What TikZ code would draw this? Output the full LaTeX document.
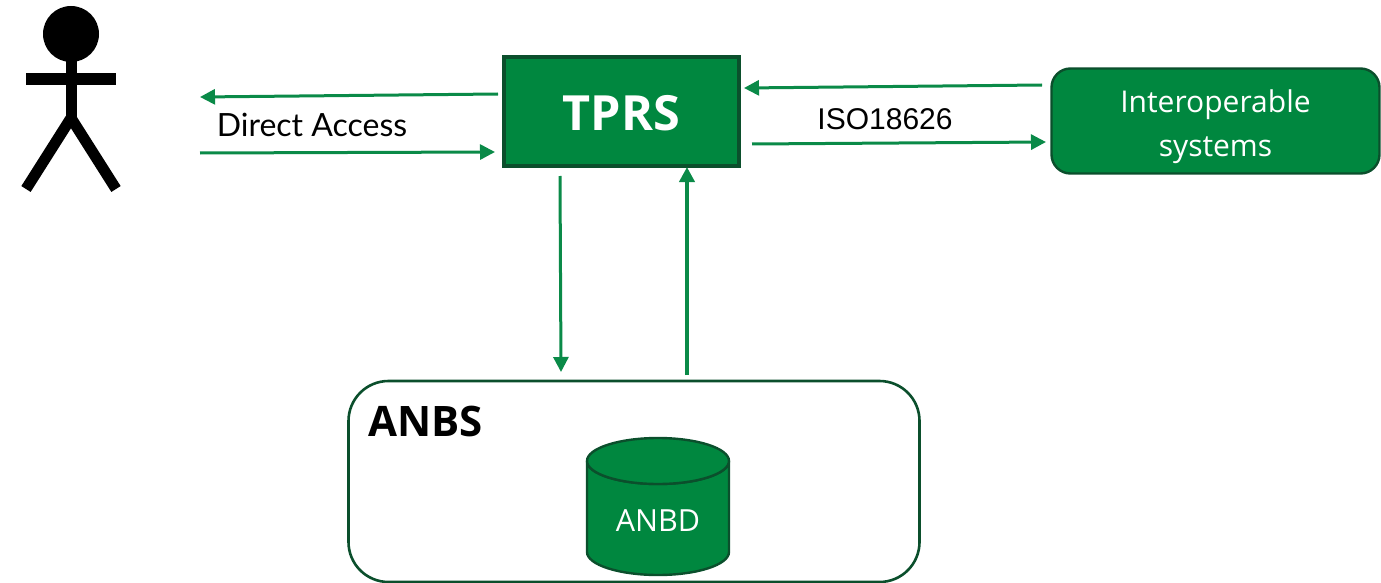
\documentclass[tikz,border=0pt]{standalone}
\usepackage{fontspec}
\setmainfont{Open Sans}
\newfontfamily\labelfont{Lato}
\newfontfamily\isofont{Liberation Sans}
\usetikzlibrary{arrows.meta}
\definecolor{gfill}{HTML}{00873F}
\definecolor{gdark}{HTML}{0B4F2C}
\definecolor{garrow}{HTML}{0A8A48}
\tikzset{
  x=1pt,y=-1pt,
  flow/.style={draw=garrow,line width=3pt,-{Triangle[length=15pt,width=15pt]}},
  flowthick/.style={flow,line width=4pt},
  stick/.style={draw=black,line width=11pt},
  greenbox/.style={draw=gdark,fill=gfill,text=white,inner sep=0pt},
  lbl/.style={text=black,inner sep=0pt},
}
\begin{document}
\begin{tikzpicture}
\useasboundingbox (0,0) rectangle (1381,583);
% actor
\fill[black] (71,34) circle (28);
\coordinate (neck) at (71,55);
\coordinate (hip) at (71,118);
\coordinate (armL) at (26,79);
\coordinate (armR) at (116,79);
\coordinate (footL) at (26,189);
\coordinate (footR) at (116,189);
\draw[stick] (neck) -- (hip);
\draw[stick,line width=12pt] (armL) -- (armR);
\draw[stick,line join=bevel] (footL) -- (hip) -- (footR);
% boxes
\node[greenbox,line width=3.6pt,minimum width=235pt,minimum height=109pt] (tprs) at (621.5,111.5) {};
\node[text=white,inner sep=0pt,font=\bfseries\fontsize{48.5}{56}\selectfont] (tprst) at (621.5,113.5) {TPRS};
\node[greenbox,line width=2.4pt,rounded corners=19pt,minimum width=328pt,minimum height=105pt] (inter) at (1215.5,121) {};
\node[text=white,inner sep=0pt,align=center,font=\fontsize{30}{44}\selectfont] (intert) at (1215.5,127) {Interoperable\\systems};
\node[draw=gdark,line width=2.6pt,rounded corners=40pt,minimum width=571pt,minimum height=201pt,inner sep=0pt] (anbs) at (634,481.5) {};
\node[lbl,font=\bfseries\fontsize{42}{48}\selectfont] (anbst) at (425.5,421.5) {ANBS};
% cylinder
\path[fill=gfill,draw=gdark,line width=2.4pt] (587,461) arc[start angle=180,end angle=360,x radius=71,y radius=-23] -- (729,552) arc[start angle=0,end angle=-180,x radius=71,y radius=-23] -- cycle;
\path[fill=gfill,draw=gdark,line width=2.4pt] (658,461) ellipse[x radius=71,y radius=23];
\node[text=white,inner sep=0pt,font=\fontsize{30.5}{36}\selectfont] (anbd) at (658,521) {ANBD};
% labels
\node[lbl,font=\labelfont\fontsize{32}{38}\selectfont] (direct) at (312,125) {Direct Access};
\node[lbl,font=\isofont\fontsize{30}{35}\selectfont] (iso) at (885,119) {ISO18626};
% connectors
\coordinate (a1s) at (498,94); \coordinate (a1e) at (200,97);
\coordinate (a2s) at (200,153); \coordinate (a2e) at (495,152);
\coordinate (a3s) at (560,176); \coordinate (a3e) at (561,372);
\coordinate (a4s) at (687,375);
\coordinate (a4e) at (687,167);
\coordinate (a5s) at (1042,85); \coordinate (a5e) at (744,88);
\coordinate (a6s) at (752,144); \coordinate (a6e) at (1046,142);
\draw[flow] (a1s) -- (a1e);
\draw[flow] (a2s) -- (a2e);
\draw[flow] (a3s) -- (a3e);
\draw[flowthick] (a4s) -- (a4e);
\draw[flow] (a5s) -- (a5e);
\draw[flow] (a6s) -- (a6e);
\end{tikzpicture}
\end{document}
